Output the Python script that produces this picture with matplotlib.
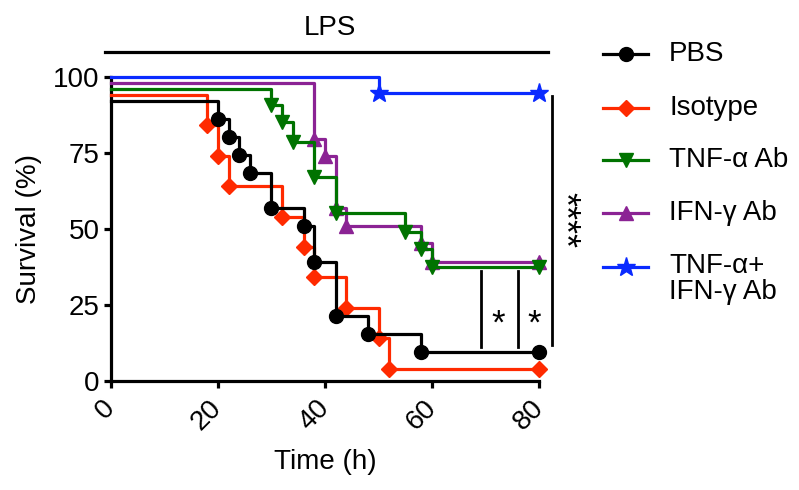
import matplotlib
matplotlib.use("Agg")
import matplotlib.pyplot as plt
from matplotlib.lines import Line2D

plt.rcParams["font.family"] = ["Liberation Sans", "DejaVu Sans"]

# Kaplan-Meier curves as drawn (Prism-style staggered offsets)
PBS_T = [0, 20, 22, 24, 26, 30, 36, 38, 42, 48, 58, 80]
PBS_V = [92, 86.1, 80.2, 74.3, 68.4, 56.7, 50.8, 39.1, 21.4, 15.5, 9.6, 9.6]
ISO_T = [0, 18, 20, 22, 32, 36, 38, 44, 50, 52, 80]
ISO_V = [94, 84, 74, 64, 54, 44, 34, 24, 14, 4, 4]
TNF_T = [0, 30, 32, 34, 38, 42, 55, 58, 60, 80]
TNF_V = [96, 90.7, 85.2, 78.6, 67.1, 55.2, 49.0, 43.2, 37.5, 37.5]
IFN_T = [0, 38, 40, 42, 44, 58, 60, 80]
IFN_V = [98, 79.5, 74, 56.7, 51, 45.2, 39.2, 39.2]
BOTH_T = [0, 50, 80]
BOTH_V = [100, 94.5, 94.5]

LABELS = ["PBS", "Isotype", "TNF-α Ab", "IFN-γ Ab", "TNF-α+\nIFN-γ Ab"]
COLORS = ["#000000", "#ff2a00", "#007300", "#8b2394", "#0a2aff"]
MARKERS = ["o", "D", "v", "^", "*"]
MSIZE = [10, 8, 10, 10, 14]
SERIES = [(PBS_T, PBS_V), (ISO_T, ISO_V), (TNF_T, TNF_V),
          (IFN_T, IFN_V), (BOTH_T, BOTH_V)]

W, H = 799, 490
fig = plt.figure(figsize=(W / 100, H / 100), dpi=100)
x0, x1, y0, y1 = 110.7, 539.3, 76.7, 380.7
ax = fig.add_axes([x0 / W, 1 - y1 / H, (x1 - x0) / W, (y1 - y0) / H])

for i, ((t, v), c, m, ms) in enumerate(zip(SERIES, COLORS, MARKERS, MSIZE)):
    z = 10 - i
    ax.step(t, v, where="post", color=c, lw=2.3, clip_on=False, zorder=z)
    ax.plot(t[1:], v[1:], ls="none", marker=m, ms=ms, color=c,
            mec=c, clip_on=False, zorder=z)

ax.set_xlim(0, 80)
ax.set_ylim(0, 100)
ax.set_xticks([0, 20, 40, 60, 80])
ax.set_yticks([0, 25, 50, 75, 100])
for s in ["top", "right"]:
    ax.spines[s].set_visible(False)
for s in ["left", "bottom"]:
    ax.spines[s].set_linewidth(2.3)
ax.tick_params(width=2.3, length=5, labelsize=20, pad=3)
ax.tick_params(axis="x", pad=12)
plt.setp(ax.get_xticklabels(), rotation=45, ha="right", va="center",
         rotation_mode="anchor")
ax.set_xlabel("Time (h)", fontsize=20, labelpad=10)
ax.set_ylabel("Survival (%)", fontsize=20, labelpad=8)

# LPS bar on top
ax.plot([-1, 81.6], [108, 108], color="k", lw=2.3, clip_on=False)
ax.text(40.9, 116, "LPS", fontsize=20, ha="center", va="center")

# significance brackets
for xb, xs in [(69.2, 72.4), (76.0, 79.1)]:
    ax.plot([xb, xb], [11, 36], color="k", lw=2, clip_on=False)
    ax.text(xs, 18.5, "*", fontsize=25, ha="center", va="center")
ax.plot([82.4, 82.4], [11.7, 93.7], color="k", lw=2, clip_on=False)
ax.text(84.4, 53, "****", fontsize=26, rotation=-90, ha="center",
        va="center")

# legend drawn by hand to match layout
rows = [54, 108, 160, 213, 267]
for lab, c, m, ms, ry in zip(LABELS, COLORS, MARKERS, MSIZE, rows):
    fy = 1 - ry / H
    fig.add_artist(Line2D([603 / W, 648 / W], [fy, fy], color=c, lw=2.3,
                          transform=fig.transFigure))
    fig.add_artist(Line2D([625.5 / W], [fy], marker=m, ms=ms, color=c,
                          transform=fig.transFigure))
    if "\n" in lab:
        fig.text(669 / W, 1 - (ry - 14) / H, lab, fontsize=20, ha="left",
                 va="top", linespacing=1.0)
    else:
        fig.text(669 / W, fy, lab, fontsize=20, ha="left", va="center")

fig.savefig("out.png", dpi=100)
